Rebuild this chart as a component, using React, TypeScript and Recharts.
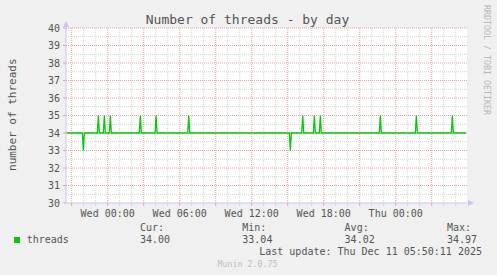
import React from "react";
import { LineChart, Line, XAxis, YAxis, ReferenceLine } from "recharts";

// Munin "threads by day" graph. x values are hours relative to Wed 00:00.
const WIDTH = 497;
const HEIGHT = 275;
const FONT = "'DejaVu Sans Mono', monospace";
const TEXT = "#555555";

const X_START = -3.475;
const X_END = 29.94;
const SAMPLE = 1 / 12; // 5 minute step

const baseline = 34;
const spikeHours = [
  -2.03, -0.78, -0.28, 0.22, 2.72, 4.03, 6.75, 15.22, 16.25, 17.22, 17.72,
  22.72, 25.72, 28.72,
];
const spikeValues = [33, 35, 35, 35, 35, 35, 35, 33, 35, 35, 35, 35, 35, 35];

const hourTicks = [
  -3, -2, -1, 0, 1, 2, 3, 4, 5, 6, 7, 8, 9, 10, 11, 12, 13, 14, 15, 16, 17,
  18, 19, 20, 21, 22, 23, 24, 25, 26, 27, 28, 29,
];
const xLabels: Record<number, string> = {
  0: "Wed 00:00",
  6: "Wed 06:00",
  12: "Wed 12:00",
  18: "Wed 18:00",
  24: "Thu 00:00",
};
const yTicks = [30, 31, 32, 33, 34, 35, 36, 37, 38, 39, 40];
const yMinor = [30.5, 31.5, 32.5, 33.5, 34.5, 35.5, 36.5, 37.5, 38.5, 39.5];

const legendCols = [
  { head: "Cur:", value: "34.00" },
  { head: "Min:", value: "33.04" },
  { head: "Avg:", value: "34.02" },
  { head: "Max:", value: "34.97" },
];

const data: { t: number; v: number }[] = [{ t: X_START + 0.05, v: baseline }];
spikeHours.forEach((h, i) => {
  data.push({ t: h - SAMPLE, v: baseline });
  data.push({ t: h, v: spikeValues[i] });
  data.push({ t: h + SAMPLE, v: baseline });
});
data.push({ t: X_END - 0.08, v: baseline });

const MAJOR = "#e8a4a4";
const MINOR = "#d2d2d2";
const AXIS = "#c6c6f2";

const isMajorHour = (h: number) => ((h % 3) + 3) % 3 === 0;

function XTick(props: any) {
  const { x, y, payload } = props;
  const v = payload.value as number;
  const label = xLabels[v];
  return (
    <g>
      <line
        x1={x}
        x2={x}
        y1={y}
        y2={y + 3}
        stroke={isMajorHour(v) ? MAJOR : MINOR}
        strokeWidth={1}
      />
      {label && (
        <text
          x={x}
          y={y + 13.5}
          textAnchor="middle"
          fontFamily={FONT}
          fontSize={10}
          fill={TEXT}
        >
          {label}
        </text>
      )}
    </g>
  );
}

function YTick(props: any) {
  const { x, y, payload } = props;
  return (
    <g>
      <line x1={x - 3} x2={x} y1={y} y2={y} stroke={MAJOR} />
      <text
        x={x - 6}
        y={y + 3.5}
        textAnchor="end"
        fontFamily={FONT}
        fontSize={10}
        fill={TEXT}
      >
        {payload.value}
      </text>
    </g>
  );
}

export default function App() {
  return (
    <div
      style={{
        position: "absolute",
        left: 0,
        top: 0,
        width: WIDTH,
        height: HEIGHT,
        background: "#f0f0f0",
      }}
    >
      <LineChart
        width={WIDTH}
        height={HEIGHT}
        data={data}
        margin={{ top: 28, right: 30, bottom: 42, left: 36 }}
      >
        <rect x={66} y={28} width={401} height={175} fill="#ffffff" />
        {yMinor.map((v) => (
          <ReferenceLine
            key={`ym${v}`}
            y={v}
            stroke={MINOR}
            strokeDasharray="1 1"
          />
        ))}
        {hourTicks
          .filter((h) => !isMajorHour(h))
          .map((h) => (
            <ReferenceLine
              key={`xm${h}`}
              x={h}
              stroke={MINOR}
              strokeDasharray="1 1"
            />
          ))}
        {yTicks.slice(1).map((v) => (
          <ReferenceLine
            key={`yM${v}`}
            y={v}
            stroke={MAJOR}
            strokeDasharray="1 1"
          />
        ))}
        {hourTicks.filter(isMajorHour).map((h) => (
          <ReferenceLine
            key={`xM${h}`}
            x={h}
            stroke={MAJOR}
            strokeDasharray="1 1"
          />
        ))}
        <XAxis
          type="number"
          dataKey="t"
          domain={[X_START, X_END]}
          ticks={hourTicks}
          interval={0}
          height={30}
          tickSize={0}
          tickMargin={0}
          tickLine={false}
          axisLine={{ stroke: AXIS }}
          tick={<XTick />}
          allowDataOverflow
        />
        <YAxis
          type="number"
          domain={[30, 40]}
          ticks={yTicks}
          interval={0}
          width={30}
          tickSize={0}
          tickMargin={0}
          tickLine={false}
          axisLine={{ stroke: AXIS }}
          tick={<YTick />}
        />
        <Line
          type="linear"
          dataKey="v"
          stroke="#00cc00"
          strokeWidth={1.3}
          dot={false}
          isAnimationActive={false}
        />
      </LineChart>
      <svg
        width={WIDTH}
        height={HEIGHT}
        style={{ position: "absolute", left: 0, top: 0, pointerEvents: "none" }}
      >
        <polygon points="66,21 63,27 69,27" fill={AXIS} />
        <polygon points="474,203 468,200 468,206" fill={AXIS} />
        <text
          x={247.5}
          y={23.5}
          textAnchor="middle"
          fontFamily={FONT}
          fontSize={13}
          fill={TEXT}
        >
          Number of threads - by day
        </text>
        <text
          transform="translate(15.5,114.7) rotate(-90)"
          textAnchor="middle"
          fontFamily={FONT}
          fontSize={11}
          fill={TEXT}
        >
          number of threads
        </text>
        <text
          transform="translate(484,60) rotate(90)"
          textAnchor="middle"
          fontFamily={FONT}
          fontSize={8.3}
          fill="#b8b8b8"
        >
          RRDTOOL / TOBI OETIKER
        </text>
        <rect x={14} y={237} width={6} height={6} fill="#00cc00" />
        <text x={26.7} y={243} fontFamily={FONT} fontSize={10} fill={TEXT}>
          threads
        </text>
        {legendCols.map((c, i) => (
          <g key={c.head}>
            <text
              x={140 + i * 102.3}
              y={231}
              fontFamily={FONT}
              fontSize={10}
              fill={TEXT}
            >
              {c.head}
            </text>
            <text
              x={140 + i * 102.3}
              y={243}
              fontFamily={FONT}
              fontSize={10}
              fill={TEXT}
            >
              {c.value}
            </text>
          </g>
        ))}
        <text
          x={482}
          y={255}
          textAnchor="end"
          fontFamily={FONT}
          fontSize={10}
          fill={TEXT}
        >
          Last update: Thu Dec 11 05:50:11 2025
        </text>
        <text
          x={247.5}
          y={267}
          textAnchor="middle"
          fontFamily={FONT}
          fontSize={8.3}
          fill="#c0c0c0"
        >
          Munin 2.0.75
        </text>
      </svg>
    </div>
  );
}
